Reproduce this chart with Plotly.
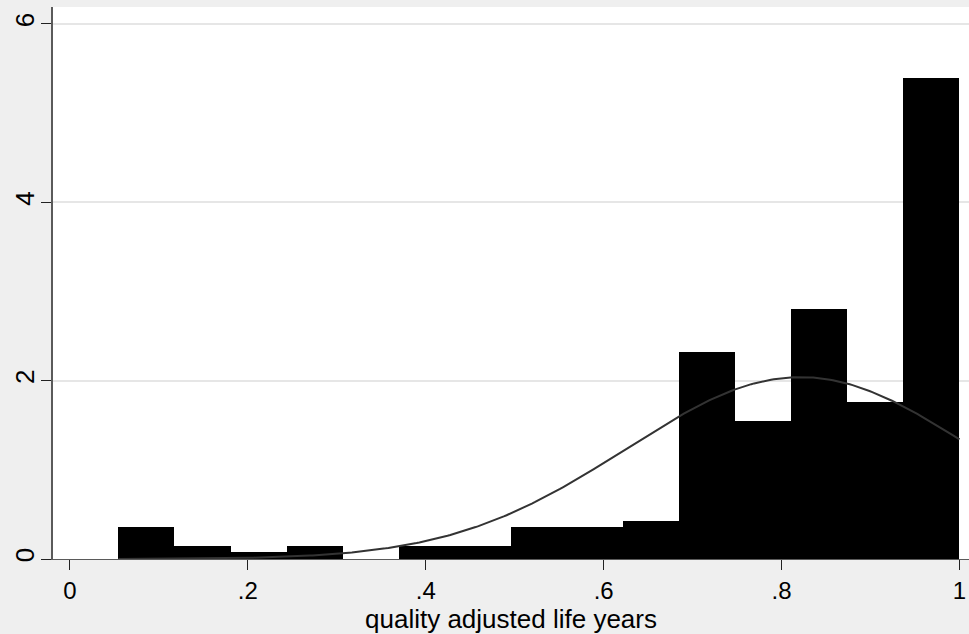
import numpy as np
import plotly.graph_objects as go

# Histogram data (density), 15 equal-width bins
bin_start = 0.0545
bin_width = 0.06303
densities = [0.356, 0.149, 0.075, 0.149, 0.0, 0.146, 0.146, 0.36, 0.36, 0.43,
             2.318, 1.551, 2.80, 1.757, 5.39]

# Fitted normal overlay parameters
norm_mean = 0.821
norm_sd = 0.1956
curve_min = 0.0545
curve_max = 1.0

x_ticks = [0, 0.2, 0.4, 0.6, 0.8, 1.0]
x_tick_text = ["0", ".2", ".4", ".6", ".8", "1"]
y_ticks = [0, 2, 4, 6]
y_tick_text = ["0", "2", "4", "6"]
x_title = "quality adjusted life years"

centers = [bin_start + bin_width * (i + 0.5) for i in range(len(densities))]

xs = np.linspace(curve_min, curve_max, 300)
ys = np.exp(-0.5 * ((xs - norm_mean) / norm_sd) ** 2) / (norm_sd * np.sqrt(2 * np.pi))

fig = go.Figure()
fig.add_trace(go.Bar(
    x=centers, y=densities, width=[bin_width] * len(densities),
    marker=dict(color="black", line=dict(width=0)),
    showlegend=False, hoverinfo="skip"))
fig.add_trace(go.Scatter(
    x=xs, y=ys, mode="lines",
    line=dict(color="#333333", width=2),
    showlegend=False, hoverinfo="skip"))

FONT = "Liberation Sans, Arial, sans-serif"

fig.update_layout(
    width=969, height=634,
    margin=dict(l=53, r=0, t=7, b=75),
    paper_bgcolor="#efefef",
    plot_bgcolor="white",
    font=dict(family=FONT, size=23, color="black"),
    bargap=0,
    xaxis=dict(
        range=[-0.019, 1.0107],
        tickvals=x_ticks, ticktext=x_tick_text,
        ticks="outside", ticklen=10, tickwidth=1.2, tickcolor="#222222",
        showline=True, linecolor="#5a5a5a", linewidth=1.4,
        showgrid=False, zeroline=False,
        tickfont=dict(size=24),
        title=dict(text=x_title, font=dict(size=26), standoff=1),
    ),
    yaxis=dict(
        range=[0, 6.19],
        tickvals=y_ticks, ticktext=y_tick_text,
        ticks="outside", ticklen=10, tickwidth=1.2, tickcolor="#222222",
        tickangle=-90, ticklabelstandoff=-3,
        showline=True, linecolor="#5a5a5a", linewidth=1.6,
        showgrid=True, gridcolor="#e6e6e6", gridwidth=2,
        zeroline=False,
        tickfont=dict(size=26),
    ),
)

fig.write_html("out.html")
